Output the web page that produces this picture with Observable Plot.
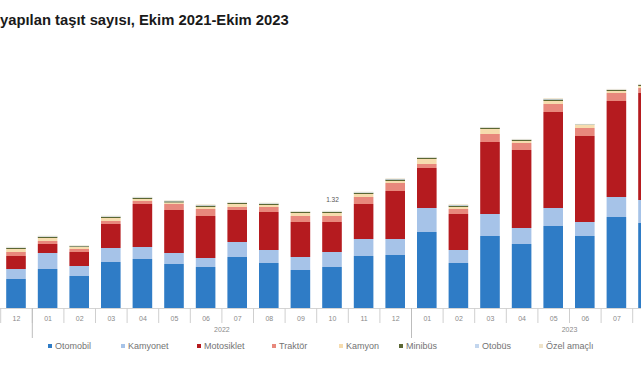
<!DOCTYPE html>
<html lang="tr">
<head>
<meta charset="utf-8">
<script src="https://cdn.jsdelivr.net/npm/d3@7"></script>
<script src="https://cdn.jsdelivr.net/npm/@observablehq/plot@0.6"></script>
<style>
  html, body { margin: 0; padding: 0; background: #fff; }
  body { width: 641px; height: 380px; overflow: hidden; position: relative; font-family: "Liberation Sans", Arial, sans-serif; }
  #title { position: absolute; left: 0; top: 11.5px; font-size: 14.8px; font-weight: bold; color: #1a1a1a; line-height: 17px; white-space: nowrap; }
  #chart { position: absolute; left: -63.2px; top: 30px; width: 790px; height: 310px; }
  #chart svg { max-width: none !important; display: block; }
  #legend { position: absolute; left: 0; top: 340px; width: 641px; height: 14px; }
  .item { position: absolute; top: 0; font-size: 9px; line-height: 12px; color: #737373; white-space: nowrap; }
  .swatch { display: inline-block; width: 4px; height: 4px; margin-right: 3px; vertical-align: 1px; }
</style>
</head>
<body>
<div id="title">yapılan taşıt sayısı, Ekim 2021-Ekim 2023</div>
<div id="chart"></div>
<div id="legend"></div>
<script>
// Full period on the x axis, Ekim 2021 – Ekim 2023
const months = [
  "2021-10", "2021-11", "2021-12",
  "2022-01", "2022-02", "2022-03", "2022-04", "2022-05", "2022-06",
  "2022-07", "2022-08", "2022-09", "2022-10", "2022-11", "2022-12",
  "2023-01", "2023-02", "2023-03", "2023-04", "2023-05", "2023-06",
  "2023-07", "2023-08", "2023-09", "2023-10"
];

// Months with values (thousand vehicles)
const valueMonths = months.slice(2, 23);
// Month numbers printed under the bars
const labelledMonths = months.slice(2, 22);

const otomobil   = [29, 39, 32, 46, 49, 44, 41, 51, 45, 38, 41, 52, 53, 76, 45, 72, 64, 82, 72, 91, 85];
const kamyonet   = [10, 16, 10, 14, 12, 11,  9, 15, 13, 13, 15, 17, 16, 24, 13, 22, 16, 18, 14, 20, 23];
const motosiklet = [13,  9, 14, 24, 43, 43, 42, 32, 38, 35, 30, 35, 48, 40, 36, 72, 78, 96, 86, 96, 107];
const traktor    = [ 4,  3,  3,  3,  3,  6,  7,  3,  5,  6,  6,  7,  8,  4,  5,  8,  7,  8,  8,  8,  5];
const kamyon     = [ 3,  3,  2,  3,  2, 1.5, 2,  3,  2,  3,  3,  3,  2,  5,  2,  5,  2,  3,  3,  2,  2];
const minibus    = [1.0, 1.2, 0.8, 1.2, 1.2, 1.2, 1.4, 1.0, 1.2, 1.1, 1.1, 1.2, 1.5, 1.2, 1.4, 1.2, 1.2, 1.5, 0.4, 1.1, 1.2];
const otobus     = [0.6, 0.5, 0.4, 0.5, 0.5, 0.5, 0.5, 0.5, 0.5, 0.4, 0.5, 0.5, 0.6, 0.4, 0.6, 0.4, 0.4, 0.6, 0.3, 0.4, 0.4];
const ozelAmacli = [0.6, 0.6, 0.5, 0.6, 0.5, 0.6, 0.7, 0.6, 0.6, 0.6, 0.6, 0.6, 0.6, 0.5, 0.7, 0.5, 0.5, 0.8, 0.4, 0.6, 0.5];

const seriesNames = ["Otomobil", "Kamyonet", "Motosiklet", "Traktör", "Kamyon", "Minibüs", "Otobüs", "Özel amaçlı"];
const seriesValues = [otomobil, kamyonet, motosiklet, traktor, kamyon, minibus, otobus, ozelAmacli];
const seriesColors = ["#2f7cc6", "#a6c3e8", "#b51b1f", "#e8887c", "#f6dcae", "#5b6733", "#c3d6ee", "#efe3c9"];

const years = ["2022", "2023"];
const yearMidMonths = ["2022-07", "2023-06"]; // band whose left edge is the year's centre
const yearStarts = ["2022-01", "2023-01"];

const noteMonth = "2022-10";
const noteText = "1.32";

const rows = seriesNames.flatMap((name, i) =>
  valueMonths.map((m, j) => ({month: m, type: name, value: seriesValues[i][j]}))
);
const totals = valueMonths.map((m, j) => ({month: m, total: d3.sum(seriesValues, s => s[j])}));

const step = 31.6;
const half = step / 2;

const chart = Plot.plot({
  width: months.length * step,
  height: 310,
  marginLeft: 0,
  marginRight: 0,
  marginTop: 0,
  marginBottom: 32,
  style: {fontFamily: "Liberation Sans, Arial, sans-serif", background: "transparent", maxWidth: "none"},
  x: {domain: months, paddingInner: 0.38, paddingOuter: 0.19, round: false, axis: null},
  y: {domain: [0, 278], axis: null},
  color: {domain: seriesNames, range: seriesColors},
  marks: [
    Plot.barY(rows, {x: "month", y: "value", fill: "type", order: seriesNames}),
    Plot.ruleY([0], {stroke: "#d4d4d4", strokeWidth: 1}),
    // separators between months
    Plot.axisX({tickSize: 15, tickFormat: () => "", stroke: "#cfcfcf", dx: -half, label: null}),
    // longer separators at year starts
    Plot.axisX({ticks: yearStarts, tickSize: 30, tickFormat: () => "", stroke: "#bdbdbd", dx: -half, label: null}),
    // month numbers
    Plot.axisX({ticks: labelledMonths, tickSize: 0, tickPadding: 8, tickFormat: m => m.slice(5), fontSize: 7, fill: "#8a8a8a", label: null}),
    // year labels
    Plot.text(years, {x: (d, i) => yearMidMonths[i], text: d => d, frameAnchor: "bottom", dy: 23, dx: -half, fontSize: 7, fill: "#8a8a8a"}),
    Plot.text(totals.filter(d => d.month === noteMonth), {x: "month", y: "total", text: () => noteText, dy: -11, fontSize: 6.5, fill: "#555"})
  ]
});
document.getElementById("chart").appendChild(chart);

// Legend
const legendX = [48, 121, 197, 272, 339, 399, 475, 539];
const legend = document.getElementById("legend");
seriesNames.forEach((name, i) => {
  const item = document.createElement("span");
  item.className = "item";
  item.style.left = legendX[i] + "px";
  const sw = document.createElement("span");
  sw.className = "swatch";
  sw.style.background = seriesColors[i];
  item.appendChild(sw);
  item.appendChild(document.createTextNode(name));
  legend.appendChild(item);
});
</script>
</body>
</html>
